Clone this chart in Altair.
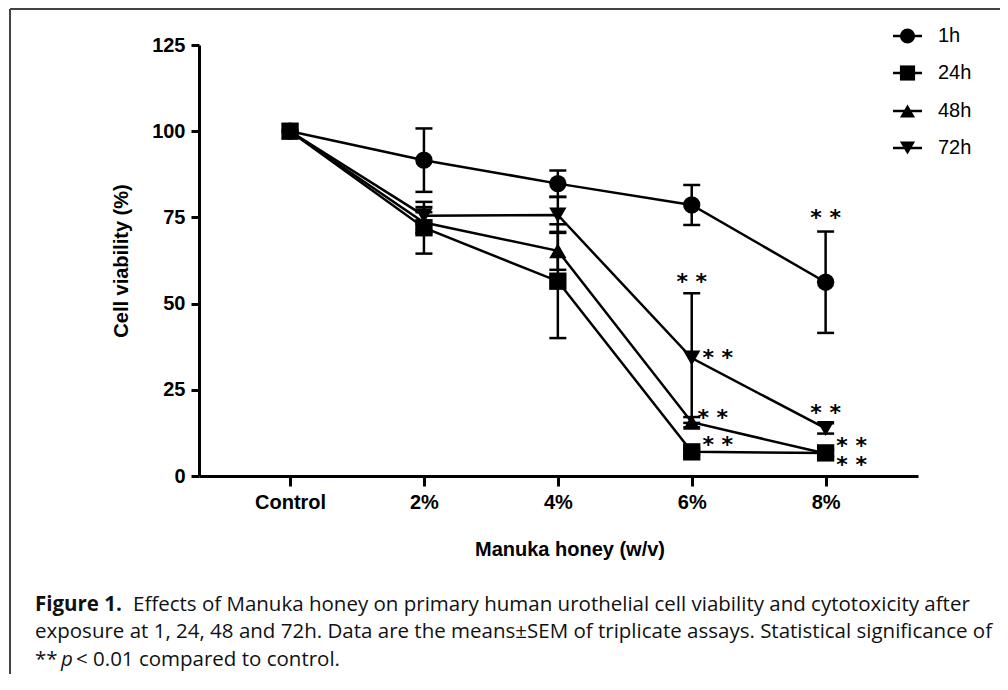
import altair as alt
import pandas as pd

# ---------------- data ----------------
categories = ["Control", "2%", "4%", "6%", "8%"]
series = ["1h", "24h", "48h", "72h"]
shapes = ["circle", "square", "triangle-up", "triangle-down"]

mean_1h = [100, 91.6, 84.8, 78.6, 56.2]
sem_1h = [0, 9.2, 3.8, 5.8, 14.7]
mean_24h = [100, 72.0, 56.5, 7.0, 6.7]
sem_24h = [0, 7.5, 16.5, 1.0, 1.0]
mean_48h = [100, 73.5, 65.3, 15.6, 6.5]
sem_48h = [0, 3.0, 5.5, 1.5, 1.0]
mean_72h = [100, 75.5, 75.7, 34.2, 13.8]
sem_72h = [0, 2.5, 5.2, 18.8, 1.5]

means = {"1h": mean_1h, "24h": mean_24h, "48h": mean_48h, "72h": mean_72h}
sems = {"1h": sem_1h, "24h": sem_24h, "48h": sem_48h, "72h": sem_72h}

# significance marks: series, category index, anchor ("hi" = top of error bar, "mean")
sig_series = ["1h", "72h", "72h", "48h", "24h", "72h", "48h", "24h"]
sig_index = [4, 3, 3, 3, 3, 4, 4, 4]
sig_anchor = ["hi", "hi", "mean", "mean", "mean", "mean", "mean", "mean"]
# pixel offsets of the "**" centre from its anchor (layout)
sig_dx = [0, 0, 26, 21, 26, 0, 26, 26]
sig_dy = [-19, -17, -5, -10, -12, -21, -13, 7]

draw_order = ["1h", "48h", "72h", "24h"]
rows = []
for s in draw_order:
    for i, c in enumerate(categories):
        m = means[s][i]
        e = sems[s][i]
        rows.append({"series": s, "idx": i, "cat": c, "mean": m,
                     "lo": m - e, "hi": m + e})
df = pd.DataFrame(rows)

# ---------------- styling ----------------
AX_FONT = "Liberation Sans"
label_expr = "[" + ",".join("'" + c + "'" for c in categories) + "][datum.value]"

xs = alt.Scale(domain=[-0.68, 4.69], nice=False, zero=False)
ys = alt.Scale(domain=[0, 125], nice=False, zero=True)

x_axis = alt.Axis(values=list(range(len(categories))), labelExpr=label_expr,
                  title=None, grid=False, domainWidth=3, domainColor="black",
                  tickWidth=3, tickSize=10, tickColor="black",
                  labelFont=AX_FONT, labelFontSize=20, labelFontWeight="bold",
                  labelColor="black", labelPadding=6)
y_axis = alt.Axis(values=[0, 25, 50, 75, 100, 125], title="Cell viability (%)",
                  grid=False, domainWidth=3, domainColor="black",
                  tickWidth=3, tickSize=8, tickColor="black",
                  labelFont=AX_FONT, labelFontSize=20, labelFontWeight="bold",
                  labelColor="black", labelPadding=6,
                  titleFont=AX_FONT, titleFontSize=20, titleFontWeight="bold",
                  titleColor="black", titlePadding=20)

X = alt.X("idx:Q", scale=xs, axis=x_axis)

base = alt.Chart(df)

lines = base.mark_line(color="black", strokeWidth=2.5).encode(
    x=X, y=alt.Y("mean:Q", scale=ys, axis=y_axis), detail="series:N")

err = base.transform_filter("datum.hi > datum.lo").mark_rule(
    color="black", strokeWidth=2.5).encode(
    x=X, y=alt.Y("lo:Q", scale=ys, axis=y_axis), y2="hi:Q")

cap_lo = base.transform_filter("datum.hi > datum.lo").mark_tick(
    orient="horizontal", color="black", size=17, thickness=2.5, opacity=1).encode(
    x=X, y=alt.Y("lo:Q", scale=ys, axis=y_axis))
cap_hi = base.transform_filter("datum.hi > datum.lo").mark_tick(
    orient="horizontal", color="black", size=17, thickness=2.5, opacity=1).encode(
    x=X, y=alt.Y("hi:Q", scale=ys, axis=y_axis))

points = base.mark_point(filled=True, size=300, opacity=1, color="black").encode(
    x=X, y=alt.Y("mean:Q", scale=ys, axis=y_axis),
    shape=alt.Shape("series:N", scale=alt.Scale(domain=series, range=shapes),
                    legend=None))

layers = [err, cap_lo, cap_hi, lines, points]

# significance asterisks
SIG_FS = 22
for s, i, a, dx, dy in zip(sig_series, sig_index, sig_anchor, sig_dx, sig_dy):
    m = means[s][i]
    yv = m + sems[s][i] if a == "hi" else m
    sd = pd.DataFrame({"idx": [i], "y": [yv], "t": ["* *"]})
    layers.append(alt.Chart(sd).mark_text(
        font="DejaVu Sans", fontSize=SIG_FS, fontWeight="bold", color="black",
        align="center", baseline="alphabetic", dx=dx, dy=dy + 0.56 * SIG_FS).encode(
        x=X, y=alt.Y("y:Q", scale=ys, axis=y_axis), text="t:N"))

# x-axis title
layers.append(alt.Chart(alt.Data(values=[{}])).mark_text(
    font=AX_FONT, fontSize=20, fontWeight="bold", color="black",
    align="center", baseline="middle").encode(
    x=alt.value(371), y=alt.value(505), text=alt.value("Manuka honey (w/v)")))

# custom legend
leg_y = [-9, 28, 66, 103]
for s, shp, ly in zip(series, shapes, leg_y):
    ld = alt.Data(values=[{"label": s}])
    layers.append(alt.Chart(ld).mark_rule(color="black", strokeWidth=2.5).encode(
        x=alt.value(694), x2=alt.value(723), y=alt.value(ly)))
    layers.append(alt.Chart(ld).mark_point(filled=True, size=230, opacity=1,
                                           color="black", shape=shp).encode(
        x=alt.value(708.5), y=alt.value(ly)))
    layers.append(alt.Chart(ld).mark_text(font=AX_FONT, fontSize=20, color="black",
                                          align="left", baseline="middle").encode(
        x=alt.value(739), y=alt.value(ly), text="label:N"))

# border of the figure
layers.append(alt.Chart(alt.Data(values=[{}])).mark_rule(color="#444", strokeWidth=2).encode(
    x=alt.value(-189), y=alt.value(-36), y2=alt.value(640)))
layers.append(alt.Chart(alt.Data(values=[{}])).mark_rule(color="#444", strokeWidth=2).encode(
    x=alt.value(-189), x2=alt.value(805), y=alt.value(-36)))

# caption
CAP_FONT = "Open Sans"
CAP_FS = 20.5
cap_items = [
    (-164, 560, "Figure 1.", "bold", "normal"),
    (-66, 560, "Effects of Manuka honey on primary human urothelial cell viability and cytotoxicity after", "normal", "normal"),
    (-164, 587, "exposure at 1, 24, 48 and 72h. Data are the means\u00b1SEM of triplicate assays. Statistical significance of", "normal", "normal"),
    (-164, 615, "**", "normal", "normal"),
    (-138, 615, "p", "normal", "italic"),
    (-123, 615, "< 0.01 compared to control.", "normal", "normal"),
]
for cx, cy, txt, fw, fst in cap_items:
    layers.append(alt.Chart(alt.Data(values=[{}])).mark_text(
        font=CAP_FONT, fontSize=CAP_FS, fontWeight=fw, fontStyle=fst, color="#111",
        align="left", baseline="middle").encode(
        x=alt.value(cx), y=alt.value(cy), text=alt.value(txt)))

chart = alt.layer(*layers).properties(
    width=719, height=431,
    padding={"left": 191, "top": 37, "right": 82, "bottom": 198},
    autosize=alt.AutoSizeParams(type="none"),
).configure_view(stroke=None)

chart.save("out.html", embed_options={"renderer": "svg", "actions": False})
